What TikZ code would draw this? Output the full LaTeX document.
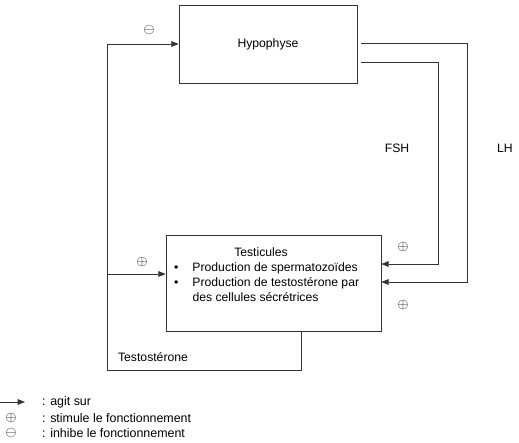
\documentclass[tikz,border=0pt]{standalone}
\usepackage{fontspec}
\setmainfont{Liberation Sans}
\usetikzlibrary{arrows.meta,positioning,calc}
\definecolor{linegray}{HTML}{333333}

\begin{document}
\begin{tikzpicture}[x=0.03cm,y=-0.03cm, every node/.style={font=\fontsize{10.4}{12.8}\selectfont}]
    \tikzstyle{organ}=[draw=linegray,line width=0.6pt,rectangle,inner sep=0pt]
    \tikzstyle{signal}=[-{Triangle[length=2.2mm,width=1.7mm]},line width=0.6pt,draw=linegray]
    \tikzstyle{effet}=[inner sep=0pt,font=\large]
    \tikzstyle{legende}=[anchor=west,inner sep=0pt,font=\fontsize{10.6}{12}\selectfont]
    \useasboundingbox (0,0) rectangle (519,443);
    \node[organ,minimum width=5.34cm,minimum height=2.34cm] (hypo) at (268,44) {Hypophyse};
    \node[organ,minimum width=6.45cm,minimum height=2.88cm] (testi) at (273.5,283) {};
    \node (titre) at (261,252) {Testicules};
    \node[anchor=north west,inner sep=0pt] (liste) at (174,261) {\begin{tabular}{@{}l@{\hspace{0.42cm}}l@{}}
        \textbullet & Production de spermatozoïdes\\
        \textbullet & Production de testostérone par\\
                    & des cellules sécrétrices
    \end{tabular}};
    % boucle de la testosterone
    \coordinate (coin) at (107,370);
    \coordinate (entree) at ($(testi.west)+(0,-9)$);
    \draw[signal] ($(testi.south)+(27.5,0)$) |- (coin) |- (hypo.west);
    \draw[signal] (coin |- entree) -- (entree);
    % FSH et LH
    \coordinate (fshcoin) at (438,62);
    \coordinate (lhcoin) at (467,43);
    \draw[signal] ($(hypo.east)+(4,18)$) -- (fshcoin) |- ($(testi.east)+(0,-19)$);
    \draw[signal] ($(hypo.east)+(4,-1)$) -- (lhcoin) |- ($(testi.east)+(0,-1)$);
    \node (fsh) at (397,148) {FSH};
    \node (lh) at (505,148) {LH};
    \node (testo) at (153,357) {Testostérone};
    \node[effet] (inhibe) at (149,30) {$\ominus$};
    \node[effet] (stimtesto) at (142,262) {$\oplus$};
    \node[effet] (stimfsh) at (403,247) {$\oplus$};
    \node[effet] (stimlh) at (403,305) {$\oplus$};
    % legende
    \coordinate (fleche0) at (0,402);
    \coordinate (fleche1) at (25,402);
    \draw[signal] (fleche0) -- (fleche1);
    \node[effet] (plus) at (11,418) {$\oplus$};
    \node[effet] (moins) at (11,433) {$\ominus$};
    \node[legende] (leg1) at (42,402) {: agit sur};
    \node[legende] (leg2) at (42,418) {: stimule le fonctionnement};
    \node[legende] (leg3) at (42,433) {: inhibe le fonctionnement};
\end{tikzpicture}
\end{document}
